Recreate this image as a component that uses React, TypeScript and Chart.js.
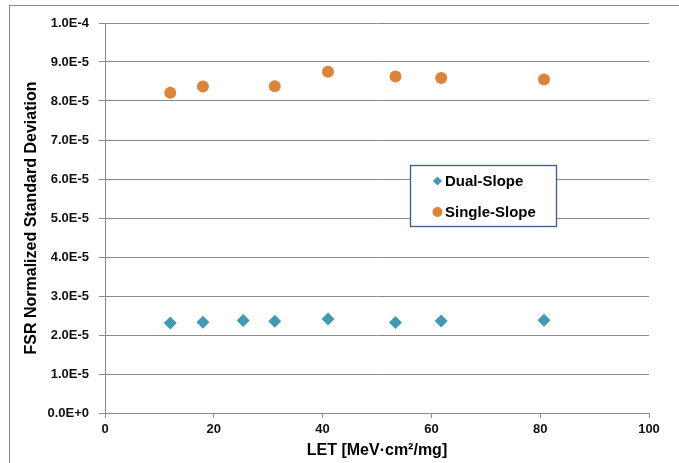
import { useEffect, useRef } from 'react';
import { Chart, registerables } from 'chart.js';

Chart.register(...registerables);

const letDual = [12, 18, 25.4, 31.2, 41, 53.4, 61.8, 80.7];
const dualSlope = [2.31e-5, 2.33e-5, 2.37e-5, 2.35e-5, 2.41e-5, 2.32e-5, 2.36e-5, 2.38e-5];
const letSingle = [12, 18, 31.2, 41, 53.4, 61.8, 80.7];
const singleSlope = [8.21e-5, 8.37e-5, 8.38e-5, 8.75e-5, 8.63e-5, 8.59e-5, 8.55e-5];
const seriesNames = ['Dual-Slope', 'Single-Slope'];
const xTitle = 'LET [MeV·cm²/mg]';
const yTitle = 'FSR Normalized Standard Deviation';
const xRange = [0, 100, 20];
const yRange = [0, 1e-4, 1e-5];

const FONT = "'Liberation Sans', Arial, sans-serif";
const BLUE = '#4398B2';
const ORANGE = '#DD843C';
const GRID = '#8a8a8a';

const frame = {
  id: 'outerFrame',
  beforeDraw(chart: any) {
    const ctx = chart.ctx;
    ctx.save();
    ctx.fillStyle = '#ffffff';
    ctx.fillRect(0, 0, chart.width, chart.height);
    ctx.strokeStyle = GRID;
    ctx.lineWidth = 1;
    ctx.strokeRect(9.5, 5.5, chart.width + 20, chart.height + 20);
    ctx.restore();
  },
};

const boxLegend = {
  id: 'boxLegend',
  afterDraw(chart: any) {
    const ctx = chart.ctx;
    ctx.save();
    const bx = 410.5, by = 165.5, bw = 146, bh = 61;
    ctx.fillStyle = '#ffffff';
    ctx.fillRect(bx, by, bw, bh);
    ctx.strokeStyle = '#3b5d8c';
    ctx.lineWidth = 1.3;
    ctx.strokeRect(bx, by, bw, bh);
    const rows = [181, 212];
    chart.data.datasets.forEach((ds: any, i: number) => {
      const y = rows[i];
      const mx = 437.5;
      ctx.fillStyle = ds.backgroundColor;
      ctx.beginPath();
      if (ds.pointStyle === 'rectRot') {
        const r = 4.6;
        ctx.moveTo(mx, y - r);
        ctx.lineTo(mx + r, y);
        ctx.lineTo(mx, y + r);
        ctx.lineTo(mx - r, y);
        ctx.closePath();
      } else {
        ctx.arc(mx, y, 5, 0, Math.PI * 2);
      }
      ctx.fill();
      ctx.fillStyle = '#000000';
      ctx.font = `bold 15px ${FONT}`;
      ctx.textAlign = 'left';
      ctx.textBaseline = 'middle';
      ctx.fillText(ds.label, 445, y + 0.5);
    });
    ctx.restore();
  },
};

export default function App() {
  const ref = useRef<HTMLCanvasElement | null>(null);
  useEffect(() => {
    document.body.style.margin = '0';
    if (!ref.current) return;
    const chart = new Chart(ref.current, {
      type: 'scatter',
      data: {
        datasets: [
          {
            label: seriesNames[0],
            data: letDual.map((x, i) => ({ x, y: dualSlope[i] })),
            backgroundColor: BLUE,
            borderColor: BLUE,
            pointStyle: 'rectRot',
            pointRadius: 6.5,
            pointHoverRadius: 6.5,
            borderWidth: 0,
          },
          {
            label: seriesNames[1],
            data: letSingle.map((x, i) => ({ x, y: singleSlope[i] })),
            backgroundColor: ORANGE,
            borderColor: ORANGE,
            pointStyle: 'circle',
            pointRadius: 6,
            pointHoverRadius: 6,
            borderWidth: 0,
          },
        ],
      },
      options: {
        responsive: false,
        animation: false,
        devicePixelRatio: 1,
        layout: { padding: { left: 0, right: 30, top: 23, bottom: 0 } },
        plugins: {
          legend: { display: false },
          tooltip: { enabled: false },
        },
        scales: {
          x: {
            type: 'linear',
            min: xRange[0],
            max: xRange[1],
            ticks: {
              stepSize: xRange[2],
              color: '#111111',
              font: { family: FONT, size: 13, weight: 'bold' },
              padding: 4,
              maxRotation: 0,
            },
            grid: {
              display: true,
              drawOnChartArea: false,
              drawTicks: true,
              tickLength: 5,
              color: GRID,
            },
            border: { display: true, color: GRID, width: 1 },
            title: {
              display: true,
              text: xTitle,
              color: '#000000',
              font: { family: FONT, size: 16, weight: 'bold' },
              padding: { top: 0, bottom: 3 },
            },
            afterFit: (s: any) => {
              s.height = 50;
            },
          },
          y: {
            type: 'linear',
            min: yRange[0],
            max: yRange[1],
            ticks: {
              stepSize: yRange[2],
              color: '#111111',
              font: { family: FONT, size: 13, weight: 'bold' },
              padding: 10,
              callback: (v: any) => Number(v).toExponential(1).toUpperCase(),
            },
            grid: {
              display: true,
              drawOnChartArea: true,
              drawTicks: true,
              tickLength: 6,
              color: GRID,
            },
            border: { display: true, color: GRID, width: 1 },
            title: {
              display: true,
              text: yTitle,
              color: '#000000',
              font: { family: FONT, size: 16, weight: 'bold' },
              padding: { top: 22, bottom: 0 },
            },
            afterFit: (s: any) => {
              s.width = 105;
            },
          },
        },
      },
      plugins: [frame, boxLegend],
    } as any);
    return () => chart.destroy();
  }, []);
  return (
    <div style={{ width: 679, height: 463 }}>
      <canvas ref={ref} width={679} height={463} style={{ display: 'block' }} />
    </div>
  );
}
